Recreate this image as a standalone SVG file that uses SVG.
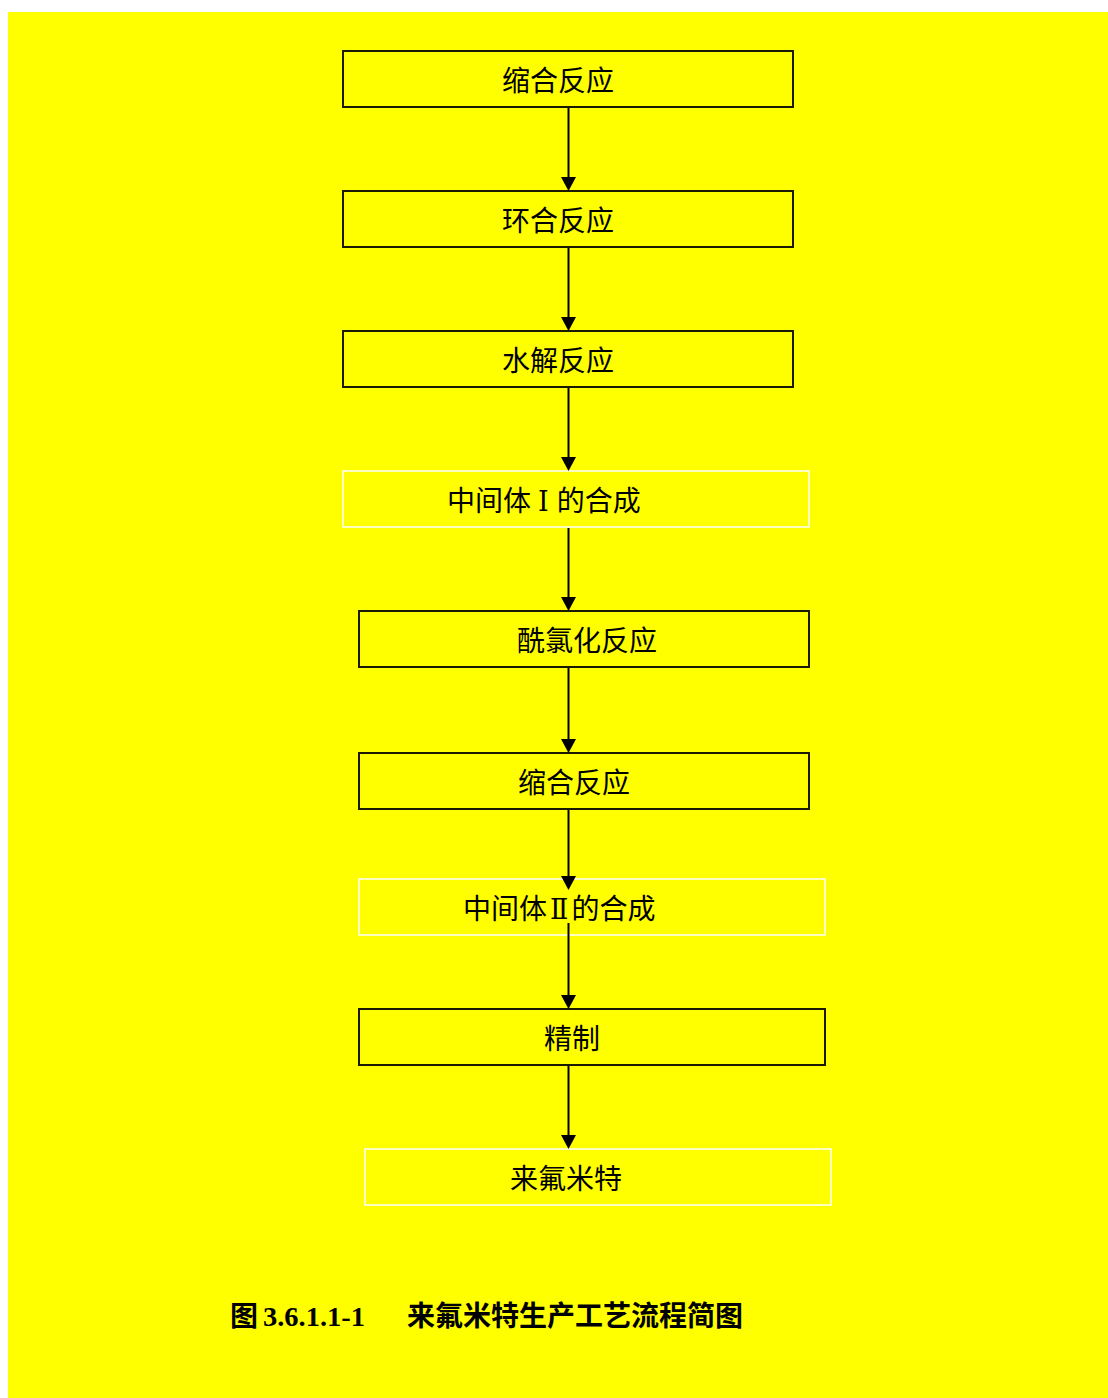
<svg xmlns="http://www.w3.org/2000/svg" width="1108" height="1398" viewBox="0 0 1108 1398">
  <defs>
    <style>
      .bg { fill: #ffffff; }
      .panel { fill: #ffff00; }
      .box { fill: #ffff00; stroke: #1a1a00; stroke-width: 2; }
      .wbox { fill: #ffff00; stroke: #ffffff; stroke-width: 1.5; }
      .lbl { font-family: "Noto Sans CJK SC", "Noto Sans", sans-serif; font-size: 28px; fill: #000000; }
      .num { font-family: "DejaVu Serif", "Liberation Serif", serif; font-size: 27px; }
      .cap { font-family: "Noto Sans CJK SC", sans-serif; font-size: 28px; font-weight: bold; fill: #000000; }
      .capnum { font-family: "Liberation Serif", "Noto Sans CJK SC", serif; font-size: 28px; font-weight: bold; fill: #000000; }
      .conn { stroke: #000000; stroke-width: 2; fill: none; }
    </style>
  </defs>
  <rect class="bg" x="0" y="0" width="1108" height="1398"/>
  <rect class="panel" x="8" y="12" width="1100" height="1386"/>

  <g id="n1"><rect class="box" x="343" y="51" width="450" height="56"/><text class="lbl" x="502" y="91">缩合反应</text></g>
  <g id="n2"><rect class="box" x="343" y="191" width="450" height="56"/><text class="lbl" x="502" y="231">环合反应</text></g>
  <g id="n3"><rect class="box" x="343" y="331" width="450" height="56"/><text class="lbl" x="502" y="371">水解反应</text></g>
  <g id="n4"><rect class="wbox" x="343" y="471" width="466" height="56"/><text class="lbl" x="447" y="511">中间体<tspan class="num" dx="7">Ⅰ</tspan><tspan dx="8">的合成</tspan></text></g>
  <g id="n5"><rect class="box" x="359" y="611" width="450" height="56"/><text class="lbl" x="517" y="651">酰氯化反应</text></g>
  <g id="n6"><rect class="box" x="359" y="753" width="450" height="56"/><text class="lbl" x="518" y="793">缩合反应</text></g>
  <g id="n7"><rect class="wbox" x="359" y="879" width="466" height="56"/><text class="lbl" x="463" y="919">中间体<tspan class="num" dx="3">Ⅱ</tspan><tspan dx="3">的合成</tspan></text></g>
  <g id="n8"><rect class="box" x="359" y="1009" width="466" height="56"/><text class="lbl" x="544" y="1049">精制</text></g>
  <g id="n9"><rect class="wbox" x="365" y="1149" width="466" height="56"/><text class="lbl" x="510" y="1189">来氟米特</text></g>

  <g id="connectors">
    <path class="conn" d="M568.5,108 L568.5,180"/>
    <path class="conn" d="M568.5,248 L568.5,320"/>
    <path class="conn" d="M568.5,388 L568.5,460"/>
    <path class="conn" d="M568.5,528 L568.5,600"/>
    <path class="conn" d="M568.5,668 L568.5,742"/>
    <path class="conn" d="M568.5,810 L568.5,879"/>
    <path class="conn" d="M568.5,923 L568.5,998"/>
    <path class="conn" d="M568.5,1066 L568.5,1138"/>
    <g fill="#000000">
      <path d="M561,177 L576,177 L568.5,191 Z"/>
      <path d="M561,317 L576,317 L568.5,331 Z"/>
      <path d="M561,457 L576,457 L568.5,471 Z"/>
      <path d="M561,597 L576,597 L568.5,611 Z"/>
      <path d="M561,739 L576,739 L568.5,753 Z"/>
      <path d="M561,876 L576,876 L568.5,890 Z"/>
      <path d="M561,995 L576,995 L568.5,1009 Z"/>
      <path d="M561,1135 L576,1135 L568.5,1149 Z"/>
    </g>
  </g>

  <g id="caption">
    <text class="cap" x="230" y="1326">图</text>
    <text class="capnum" x="263" y="1326" textLength="102" lengthAdjust="spacingAndGlyphs">3.6.1.1-1</text>
    <text class="cap" x="407" y="1326">来氟米特生产工艺流程简图</text>
  </g>
</svg>
